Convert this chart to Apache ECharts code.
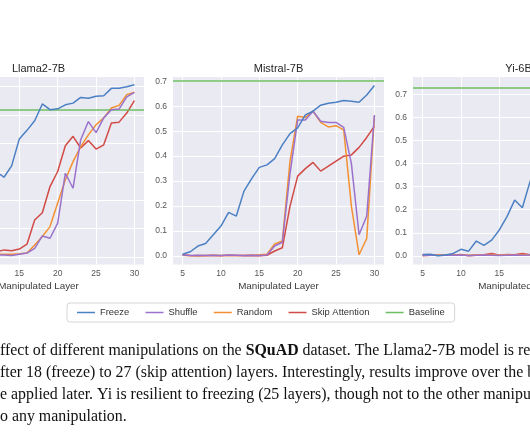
<!DOCTYPE html>
<html><head><meta charset="utf-8">
<script src="https://cdn.jsdelivr.net/npm/echarts@6/dist/echarts.min.js"></script>
<style>html,body{margin:0;padding:0;background:#fff;overflow:hidden}#c{width:530px;height:442px}</style>
</head><body><div id="c"></div>
<script>
// ---- data ----
const layers = [5,6,7,8,9,10,11,12,13,14,15,16,17,18,19,20,21,22,23,24,25,26,27,28,29,30];
const models = ['Llama2-7B', 'Mistral-7B', 'Yi-6B'];
const manipulations = ['Freeze', 'Shuffle', 'Random', 'Skip Attention'];

const llamaFreeze  = [0.02,0.05,0.09,0.13,0.18,0.23,0.27,0.30,0.281,0.321,0.416,0.446,0.480,0.539,0.519,0.522,0.536,0.542,0.562,0.559,0.566,0.568,0.594,0.594,0.600,0.607];
const llamaShuffle = [0.005,0.006,0.004,0.007,0.005,0.006,0.008,0.007,0.007,0.005,0.010,0.014,0.030,0.074,0.066,0.119,0.295,0.242,0.413,0.477,0.438,0.490,0.519,0.521,0.564,0.580];
const llamaRandom  = [0.006,0.007,0.006,0.008,0.007,0.008,0.009,0.010,0.010,0.010,0.011,0.014,0.042,0.072,0.107,0.190,0.272,0.336,0.389,0.430,0.466,0.490,0.525,0.534,0.572,0.580];
const llamaSkip    = [0.010,0.012,0.011,0.013,0.015,0.014,0.016,0.018,0.025,0.022,0.028,0.045,0.130,0.156,0.248,0.301,0.392,0.425,0.384,0.410,0.380,0.395,0.472,0.475,0.507,0.551];

const mistralFreeze  = [0.007,0.017,0.040,0.050,0.085,0.120,0.175,0.160,0.260,0.310,0.355,0.365,0.390,0.445,0.490,0.513,0.565,0.580,0.604,0.612,0.616,0.623,0.620,0.616,0.645,0.683];
const mistralShuffle = [0.004,0.002,0.003,0.002,0.003,0.002,0.004,0.003,0.002,0.003,0.002,0.004,0.040,0.055,0.330,0.545,0.545,0.580,0.540,0.535,0.535,0.515,0.370,0.085,0.160,0.565];
const mistralRandom  = [0.003,0.001,0.002,0.001,0.003,0.002,0.003,0.002,0.003,0.004,0.005,0.007,0.048,0.060,0.380,0.560,0.555,0.580,0.535,0.517,0.522,0.505,0.200,0.005,0.070,0.560];
const mistralSkip    = [0.005,0.002,0.001,0.002,0.002,0.001,0.003,0.002,0.001,0.002,0.001,0.003,0.020,0.033,0.200,0.320,0.350,0.375,0.340,0.360,0.380,0.400,0.405,0.435,0.475,0.520];

const yiFreeze  = [0.006,0.007,0.000,0.003,0.010,0.028,0.020,0.064,0.045,0.068,0.112,0.170,0.242,0.209,0.322,0.400,0.470,0.530,0.600,0.650,0.690,0.710,0.720,0.730,0.735,0.740];
const yiShuffle = [0.002,0.003,0.001,0.002,0.002,0.003,0.001,0.002,0.003,0.002,0.001,0.002,0.003,0.002,0.003,0.003,0.002,0.004,0.003,0.005,0.004,0.006,0.010,0.020,0.050,0.100];
const yiRandom  = [0.004,0.002,0.003,0.002,0.004,0.003,0.002,0.004,0.003,0.005,0.002,0.004,0.003,0.005,0.004,0.004,0.003,0.005,0.004,0.006,0.005,0.008,0.012,0.025,0.060,0.120];
const yiSkip    = [0.000,0.002,0.002,0.003,0.002,0.005,0.000,0.002,0.004,0.010,0.002,0.005,0.004,0.010,0.004,0.005,0.004,0.006,0.005,0.007,0.006,0.009,0.015,0.030,0.070,0.130];

const baselines = [0.516, 0.703, 0.733];

const xTicks = [5,10,15,20,25,30];
const yTicks = [[0,0.1,0.2,0.3,0.4,0.5,0.6],[0,0.1,0.2,0.3,0.4,0.5,0.6,0.7],[0,0.1,0.2,0.3,0.4,0.5,0.6,0.7]];

const captionLines = [
  ['ffect of different manipulations on the ', 'SQuAD', ' dataset. The Llama2-7B model is re'],
  ['fter 18 (freeze) to 27 (skip attention) layers. Interestingly, results improve over the b'],
  ['e applied later. Yi is resilient to freezing (25 layers), though not to the other manipu'],
  ['o any manipulation.']
];

// ---- presentation ----
const seriesValues = [
  [llamaFreeze, llamaShuffle, llamaRandom, llamaSkip],
  [mistralFreeze, mistralShuffle, mistralRandom, mistralSkip],
  [yiFreeze, yiShuffle, yiRandom, yiSkip]
];
const colors = {'Freeze':'#4c80c4','Shuffle':'#9a72cc','Random':'#f39132','Skip Attention':'#d24a45','Baseline':'#6cbf60'};
const gridLefts = [-67, 173, 413];
const yRanges = [[-0.0265,0.634],[-0.034,0.717],[-0.038,0.777]];
const TXT = '#3a3a3a';
const FONT = 'Liberation Sans, Arial, Helvetica, sans-serif';

const grids = [], xAxes = [], yAxes = [], series = [], graphics = [];
models.forEach((m, i) => {
  grids.push({left: gridLefts[i], top: 77, width: 211, height: 187.5, show: true,
    backgroundColor: '#eaeaf2', borderWidth: 0, containLabel: false, outerBoundsMode: 'none'});
  xAxes.push({type: 'value', gridIndex: i, min: 3.75, max: 31.25,
    name: 'Manipulated Layer', nameLocation: 'middle', nameGap: 17,
    nameTextStyle: {fontFamily: FONT, fontSize: 9.8, color: TXT},
    axisLine: {show: false}, axisTick: {show: false, customValues: xTicks},
    axisLabel: {customValues: xTicks, fontFamily: FONT, fontSize: 8.5, color: '#555', margin: 5},
    splitLine: {show: true, lineStyle: {color: '#ffffff', width: 1}}});
  yAxes.push({type: 'value', gridIndex: i, min: yRanges[i][0], max: yRanges[i][1],
    axisLine: {show: false}, axisTick: {show: false, customValues: yTicks[i]},
    axisLabel: {customValues: yTicks[i], fontFamily: FONT, fontSize: 8.5, color: '#555', margin: 6,
      formatter: v => v.toFixed(1)},
    splitLine: {show: true, lineStyle: {color: '#ffffff', width: 1}}});
  manipulations.forEach((name, k) => {
    series.push({type: 'line', name, xAxisIndex: i, yAxisIndex: i,
      data: layers.map((l, j) => [l, seriesValues[i][k][j]]),
      symbol: 'none', showSymbol: false, z: 3 + (3 - k),
      lineStyle: {color: colors[name], width: 1.5}, itemStyle: {color: colors[name]}});
  });
  series.push({type: 'line', name: 'Baseline', xAxisIndex: i, yAxisIndex: i, data: [],
    symbol: 'none', lineStyle: {color: colors.Baseline, width: 1.5}, itemStyle: {color: colors.Baseline},
    markLine: {silent: true, symbol: 'none', label: {show: false},
      lineStyle: {color: colors.Baseline, width: 1.5, type: 'solid'},
      data: [{yAxis: baselines[i]}]}});
  graphics.push({type: 'text', x: gridLefts[i] + 105.5, y: 69, style: {text: m,
    font: '11px ' + FONT, fill: '#262626', textAlign: 'center', textVerticalAlign: 'middle'}});
});

captionLines.forEach((parts, li) => {
  let t = parts.map((p, pi) => (p === 'SQuAD' ? '{b|' + p + '}' : '{a|' + p + '}')).join('');
  graphics.push({type: 'text', x: 0, y: 351 + li * 21.8, style: {text: t, textVerticalAlign: 'middle',
    rich: {a: {fontFamily: 'Liberation Serif, Times New Roman, serif', fontSize: 15.9, fill: '#111'},
           b: {fontFamily: 'Liberation Serif, Times New Roman, serif', fontSize: 15.9, fontWeight: 'bold', fill: '#111'}}}});
});

const chart = echarts.init(document.getElementById('c'), null, {renderer: 'canvas'});
chart.setOption({
  animation: false,
  grid: grids, xAxis: xAxes, yAxis: yAxes, series,
  legend: {data: ['Freeze','Shuffle','Random','Skip Attention','Baseline'], left: 67, top: 303,
    icon: 'rect', itemWidth: 18, itemHeight: 1.5, itemGap: 16.3, padding: [5, 10],
    backgroundColor: '#ffffff', borderColor: '#d5d5d5', borderWidth: 1, borderRadius: 3,
    textStyle: {fontFamily: FONT, fontSize: 9.4, color: '#333'}},
  graphic: graphics
});
</script></body></html>
